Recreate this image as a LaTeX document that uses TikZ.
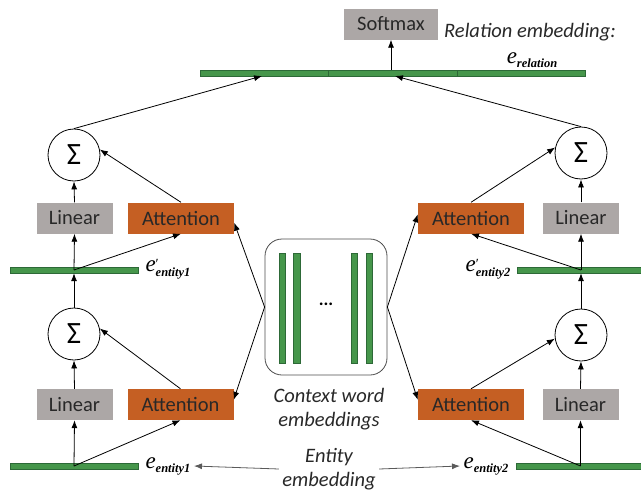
\documentclass[tikz,border=0pt]{standalone}
\usepackage{fontspec}
\setmainfont{Carlito}
\newfontfamily\tms{Liberation Serif}
\usetikzlibrary{arrows.meta,calc}
\definecolor{grn}{RGB}{70,150,75}
\definecolor{grnd}{RGB}{45,105,55}
\definecolor{org}{RGB}{197,95,35}
\definecolor{gry}{RGB}{172,167,166}
\definecolor{txt}{RGB}{40,40,40}
\definecolor{ardk}{RGB}{90,90,90}
\newcommand{\embp}[1]{{\tms\itshape\fontsize{23}{23}\selectfont e}\raisebox{-5pt}{\tms\begin{tabular}[b]{@{}l@{}}\fontsize{14}{8}\selectfont ′\\[-4pt]\bfseries\itshape\fontsize{12.5}{12.5}\selectfont #1\end{tabular}}}
\newcommand{\embs}[1]{{\tms\itshape\fontsize{23}{23}\selectfont e}\raisebox{-4pt}{\tms\bfseries\itshape\fontsize{12.5}{12.5}\selectfont #1}}
\begin{document}
\begin{tikzpicture}[x=1pt,y=-1pt,
 box/.style={draw=none, minimum height=31pt, inner sep=0pt, font=\fontsize{20.5}{20.5}\selectfont, text=txt},
 lin/.style={box, fill=gry, minimum width=76pt},
 att/.style={box, fill=org, minimum width=106pt},
 sig/.style={circle, draw, line width=0.8pt, minimum size=52pt, inner sep=0pt, font=\fontsize{31}{31}\selectfont},
 hbar/.style={rectangle, fill=grn, draw=grnd, line width=0.4pt, minimum height=6pt, inner sep=0pt},
 vbar/.style={rectangle, fill=grn, draw=grnd, line width=0.4pt, minimum width=6.5pt, minimum height=110pt, inner sep=0pt},
 arr/.style={-{Latex[length=8pt,width=6pt]}, line width=0.8pt},
 arrg/.style={-{Latex[length=8pt,width=6pt]}, line width=0.8pt, draw=ardk},
 lbl/.style={font=\fontsize{20.5}{24}\selectfont\itshape, text=txt, align=center},
]
\useasboundingbox (0,0) rectangle (641,490);

% top
\node[box, fill=gry, minimum width=94pt] (soft) at (391,24) {Softmax};
\node[lbl] (reltxt) at (530,32) {Relation embedding:};
\node (rel) at (532,60) {\embs{relation}};
\node[hbar, minimum width=128pt] (barT1) at (264,73) {};
\node[hbar, minimum width=129pt] (barT2) at (392.5,73) {};
\node[hbar, minimum width=128pt] (barT3) at (521,73) {};
\coordinate (rA) at (262,76);
\coordinate (rC) at (395,76);
\draw[arr] (soft.south |- barT2.north) -- (soft.south);

% context box
\node[draw=black!70, rounded corners=17pt, minimum width=122pt, minimum height=136pt, line width=0.8pt] (ctx) at (326,307) {};
\node[vbar] (v1) at (282,308) {};
\node[vbar] (v2) at (296.5,308) {};
\node[vbar] (v3) at (354,308) {};
\node[vbar] (v4) at (369,308) {};
\node[font=\fontsize{18}{18}\selectfont\bfseries] (dots) at (326,304) {...};
\node[lbl] (ctxl) at (329,409) {Context word\\embeddings};
\node[lbl] (ent) at (329,469) {Entity\\embedding};

% left column
\node[sig] (sigA) at (74,155) {Σ};
\node[lin] (linA) at (74.5,218) {Linear};
\node[att] (attA) at (181,218) {Attention};
\node[hbar, minimum width=128pt] (barA) at (74,270) {};
\node[anchor=west] (eA) at (142,270) {\embp{entity1}};
\node[sig] (sigB) at (74,334) {Σ};
\node[lin] (linB) at (74.5,404.5) {Linear};
\node[att] (attB) at (180.5,404.5) {Attention};
\node[hbar, minimum width=128pt] (barB) at (74,466) {};
\node[anchor=west] (eB) at (142,466) {\embs{entity1}};

% right column
\node[sig] (sigC) at (581,153) {Σ};
\node[lin] (linC) at (581,218) {Linear};
\node[att] (attC) at (471,218) {Attention};
\node[hbar, minimum width=124pt] (barC) at (579,270) {};
\node[anchor=east] (eC) at (514,270) {\embp{entity2}};
\node[sig] (sigD) at (581,335) {Σ};
\node[lin] (linD) at (580.5,404.5) {Linear};
\node[att] (attD) at (471,404.5) {Attention};
\node[hbar, minimum width=125pt] (barD) at (578.5,466) {};
\node[anchor=east] (eD) at (512,466) {\embs{entity2}};

% connectors left
\draw[arr] (sigA.north) -- (rA);
\draw[arr] (barA.center) -- (linA.south);
\draw[arr] (barA.center) -- (attA.south);
\draw[arr] (linA.north) -- (sigA.south);
\draw[arr] (attA.north) -- (sigA.12);
\draw[arr] (ctx.west) -- (attA.-5);
\draw[arr] (sigB.north) -- (barA.south);
\draw[arr] (barB.center) -- (linB.south);
\draw[arr] (barB.center) -- (attB.south);
\draw[arr] (linB.north) -- (sigB.south);
\draw[arr] (attB.north) -- (sigB.12);
\draw[arr] (ctx.west) -- (attB.5);

% connectors right
\draw[arr] (sigC.north) -- (rC);
\draw[arr] (linC.south |- barC.center) -- (linC.south);
\draw[arr] (linC.south |- barC.center) -- (attC.south);
\draw[arr] (linC.north) -- (sigC.south);
\draw[arr] (attC.north) -- (sigC.168);
\draw[arr] (ctx.east) -- (attC.176);
\draw[arr] (sigD.north) -- (sigD.north |- barC.south);
\draw[arr] (linD.south |- barD.center) -- (linD.south);
\draw[arr] (linD.south |- barD.center) -- (attD.south);
\draw[arr] (linD.north) -- (sigD.south);
\draw[arr] (attD.north) -- (sigD.188);
\draw[arr] (ctx.east) -- (attD.175);

% entity embedding arrows
\draw[arrg] (ent.west) -- (eB.east);
\draw[arrg] (ent.east) -- (eD.west);
\end{tikzpicture}
\end{document}
